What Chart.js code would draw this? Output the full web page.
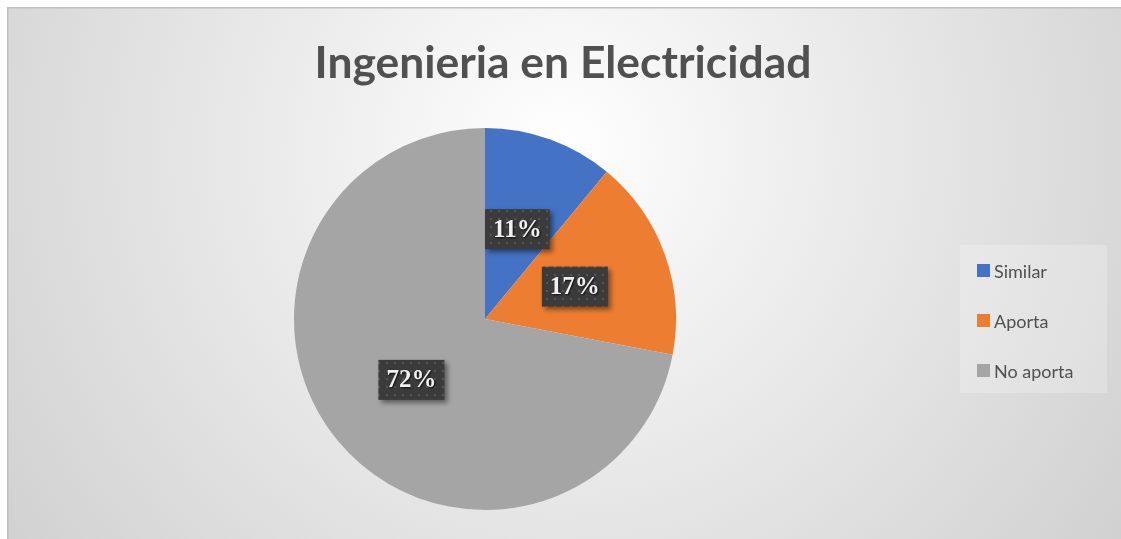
<!DOCTYPE html>
<html>
<head>
<meta charset="utf-8">
<script src="https://cdn.jsdelivr.net/npm/chart.js@4.4.1/dist/chart.umd.min.js"></script>
<style>
  html, body { margin: 0; padding: 0; background: #fff; overflow: hidden; }
  #wrap { width: 1121px; height: 539px; position: relative; }
</style>
</head>
<body>
<div id="wrap"><canvas id="pie"></canvas></div>
<script>
// Datos
const titulo = 'Ingenieria en Electricidad';
const categorias = ['Similar', 'Aporta', 'No aporta'];
const porcentajes = [11, 17, 72];
const colores = ['#4472C4', '#ED7D31', '#A5A5A5'];

const GRIS_TXT = '#505050';

// motivo punteado para las etiquetas
const motif = document.createElement('canvas');
motif.width = 8; motif.height = 8;
const mctx = motif.getContext('2d');
mctx.fillStyle = '#3b3b3b';
mctx.fillRect(0, 0, 8, 8);
mctx.fillStyle = '#565656';
mctx.fillRect(2, 2, 2, 2);

const fondo = {
  id: 'fondo',
  beforeDraw(chart) {
    const c = chart.ctx, W = chart.width, H = chart.height;
    c.save();
    c.fillStyle = '#fff';
    c.fillRect(0, 0, W, H);
    const g = c.createRadialGradient(560, 150, 0, 560, 150, 720);
    g.addColorStop(0, '#ffffff');
    g.addColorStop(0.25, '#f2f2f2');
    g.addColorStop(1, '#cecece');
    c.fillStyle = g;
    c.fillRect(8, 8, W - 8, H - 8);
    c.fillStyle = '#bdbdbd';
    c.fillRect(7, 7, W - 7, 1.5);
    c.fillRect(7, 7, 1.5, H - 7);
    c.restore();
  }
};

const extras = {
  id: 'extras',
  afterDraw(chart) {
    const c = chart.ctx;
    c.save();

    // título
    let fs = 44;
    c.font = `bold ${fs}px Lato`;
    const w = c.measureText(titulo).width;
    fs = fs * 497 / w;
    c.font = `bold ${fs}px Lato`;
    c.fillStyle = GRIS_TXT;
    c.textAlign = 'center';
    c.textBaseline = 'alphabetic';
    c.fillText(titulo, 563, 78);

    // etiquetas de datos
    const meta = chart.getDatasetMeta(0);
    c.font = 'bold 25px "Liberation Serif"';
    meta.data.forEach((arc, i) => {
      const p = arc.tooltipPosition();
      const txt = porcentajes[i] + '%';
      const bw = c.measureText(txt).width + 16;
      const bh = 40;
      const x = p.x - bw / 2, y = p.y - bh / 2;
      c.save();
      c.shadowColor = 'rgba(0,0,0,0.45)';
      c.shadowBlur = 5;
      c.shadowOffsetX = 3;
      c.shadowOffsetY = 3;
      c.fillStyle = c.createPattern(motif, 'repeat');
      c.fillRect(x, y, bw, bh);
      c.restore();
      c.save();
      c.shadowColor = 'rgba(0,0,0,0.8)';
      c.shadowBlur = 2;
      c.shadowOffsetX = 1;
      c.shadowOffsetY = 1;
      c.fillStyle = '#f0f0f0';
      c.textAlign = 'center';
      c.textBaseline = 'middle';
      c.fillText(txt, p.x, p.y + 1);
      c.restore();
    });

    // leyenda
    c.fillStyle = 'rgba(255,255,255,0.22)';
    c.fillRect(960, 245, 147, 148);
    c.font = '18px Lato';
    c.textAlign = 'left';
    c.textBaseline = 'alphabetic';
    categorias.forEach((lab, i) => {
      const y = 264 + i * 50;
      c.fillStyle = colores[i];
      c.fillRect(977, y, 13, 13);
      c.fillStyle = GRIS_TXT;
      c.fillText(lab, 994, y + 14);
    });
    c.restore();
  }
};

new Chart(document.getElementById('pie'), {
  type: 'pie',
  data: {
    labels: categorias,
    datasets: [{
      data: porcentajes,
      backgroundColor: colores,
      borderWidth: 0
    }]
  },
  options: {
    responsive: true,
    maintainAspectRatio: false,
    animation: false,
    layout: { padding: { top: 128, bottom: 29, left: 294, right: 445 } },
    plugins: {
      legend: { display: false },
      title: { display: false },
      tooltip: { enabled: false }
    }
  },
  plugins: [fondo, extras]
});
</script>
</body>
</html>
